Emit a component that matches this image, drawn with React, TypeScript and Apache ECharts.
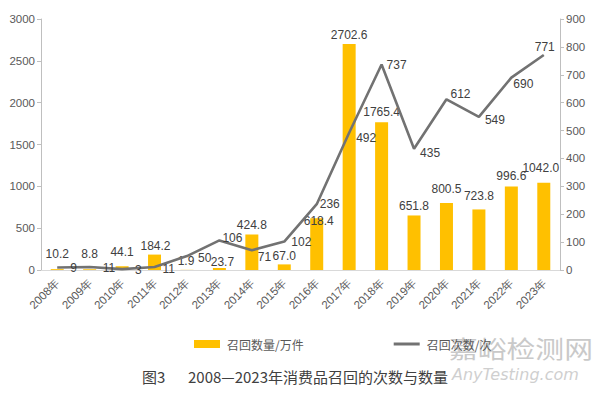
import React, { useEffect, useRef } from "react";
import * as echarts from "echarts";

const years = [
  "2008年", "2009年", "2010年", "2011年", "2012年", "2013年", "2014年", "2015年",
  "2016年", "2017年", "2018年", "2019年", "2020年", "2021年", "2022年", "2023年",
];
const recallQuantity = [
  10.2, 8.8, 44.1, 184.2, 1.9, 23.7, 424.8, 67.0, 618.4, 2702.6, 1765.4, 651.8, 800.5, 723.8, 996.6, 1042.0,
];
const recallCount = [9, 11, 3, 11, 50, 106, 71, 102, 236, 492, 737, 435, 612, 549, 690, 771];
const seriesNames = ["召回数量/万件", "召回次数/次"];
const captionLabel = "图3";
const captionText = "2008—2023年消费品召回的次数与数量";
const watermarkCn = "嘉峪检测网";
const watermarkEn = "AnyTesting.com";

const LABEL_FONT = "'Liberation Sans', Arial, sans-serif";
const CJK_FONT = "'Noto Sans CJK SC', sans-serif";
const LINE_COLOR = "#727272";

// label nudges (style only), mimicking the manually placed labels of the original
const barLabelNudge = [
  [0, -6], [0, -6], [0, -5], [1, 0], [-1, 0], [3, 3], [0, 0], [0, 1],
  [2, 12], [0, 0], [0, -1], [0, 0], [0, -5], [0, -4], [0, -2], [-3, -6],
];
const lineLabelNudge = [
  [8, 1], [8, 1], [8, 1], [3, 2], [6, 2], [-2, -2], [1, 7], [2, 0],
  [-2, 0], [2, 5], [0, 1], [1, 4], [-1, -5], [1, 3], [-3, 6], [1, 3],
];

export default function App() {
  const ref = useRef<HTMLDivElement>(null);
  useEffect(() => {
    if (!ref.current) return;
    const chart = echarts.init(ref.current, undefined, { renderer: "svg" });
    const axisLabel = { color: "#595959", fontSize: 11.5, fontFamily: LABEL_FONT, formatter: (v: any) => String(v) };
    chart.setOption({
      animation: false,
      backgroundColor: "#ffffff",
      grid: { left: 41, right: 40, top: 19, bottom: 125, containLabel: false },
      legend: {
        left: 189,
        top: 333,
        itemWidth: 26,
        itemHeight: 8,
        itemGap: 90,
        textStyle: { color: "#595959", fontSize: 12, fontFamily: CJK_FONT, padding: [0, 0, 0, 2] },
        data: [
          { name: seriesNames[0], icon: "rect" },
          { name: seriesNames[1], icon: "path://M0,0H26V3H0Z", itemStyle: { color: LINE_COLOR } },
        ],
      },
      xAxis: {
        type: "category",
        data: years,
        axisLine: { lineStyle: { color: "#d9d9d9", width: 1 } },
        axisTick: { show: false },
        axisLabel: { color: "#595959", fontSize: 11.5, fontFamily: LABEL_FONT, rotate: 45, margin: 11, interval: 0 },
      },
      yAxis: [
        {
          type: "value",
          min: 0,
          max: 3000,
          interval: 500,
          splitLine: { show: false },
          axisLine: { show: true, lineStyle: { color: "#bfbfbf" } },
          axisTick: { show: true, length: 4, lineStyle: { color: "#bfbfbf" } },
          axisLabel: { ...axisLabel, margin: 6 },
        },
        {
          type: "value",
          min: 0,
          max: 900,
          interval: 100,
          splitLine: { show: false },
          axisLine: { show: true, lineStyle: { color: "#bfbfbf" } },
          axisTick: { show: true, length: 4, lineStyle: { color: "#bfbfbf" } },
          axisLabel: { ...axisLabel, margin: 6 },
        },
      ],
      series: [
        {
          name: seriesNames[0],
          type: "bar",
          yAxisIndex: 0,
          barWidth: 13,
          data: recallQuantity,
          itemStyle: { color: "#FFC000" },
          label: {
            show: true,
            position: "top",
            distance: 3,
            color: "#404040",
            fontSize: 12,
            fontFamily: LABEL_FONT,
            formatter: (p: any) => Number(p.value).toFixed(1),
          },
          labelLayout: (p: any) => ({
            hideOverlap: false,
            dx: barLabelNudge[p.dataIndex][0],
            dy: barLabelNudge[p.dataIndex][1],
          }),
          z: 1,
        },
        {
          name: seriesNames[1],
          type: "line",
          yAxisIndex: 1,
          symbol: "circle",
          symbolSize: 0,
          showSymbol: true,
          data: recallCount.map((v, i) =>
            i === recallCount.length - 1 ? { value: v, label: { position: "top" } } : v
          ),
          lineStyle: { color: LINE_COLOR, width: 2.6 },
          itemStyle: { color: LINE_COLOR },
          label: {
            show: true,
            position: "right",
            distance: 5,
            color: "#404040",
            fontSize: 12,
            fontFamily: LABEL_FONT,
          },
          labelLayout: (p: any) => ({
            hideOverlap: false,
            dx: lineLabelNudge[p.dataIndex][0],
            dy: lineLabelNudge[p.dataIndex][1],
          }),
          z: 2,
        },
      ],
      graphic: [
        {
          type: "text",
          left: 449,
          top: 336,
          scaleX: 1.2,
          style: {
            text: watermarkCn,
            font: `24px ${CJK_FONT}`,
            fill: "#c9c9c9",
          },
          z: 0,
        },
        {
          type: "text",
          left: 452,
          top: 366,
          style: {
            text: watermarkEn,
            font: `italic 16px 'DejaVu Sans', sans-serif`,
            fill: "#cfcfcf",
          },
          z: 0,
        },
        {
          type: "text",
          left: 142,
          top: 369,
          style: {
            text: captionLabel,
            font: `15px ${CJK_FONT}`,
            fill: "#404040",
          },
        },
        {
          type: "text",
          left: 188,
          top: 369,
          style: {
            text: captionText,
            font: `15px ${CJK_FONT}`,
            fill: "#404040",
          },
        },
      ],
    });
    return () => chart.dispose();
  }, []);
  return <div ref={ref} style={{ width: 600, height: 395, position: "absolute", left: 0, top: 0 }} />;
}
